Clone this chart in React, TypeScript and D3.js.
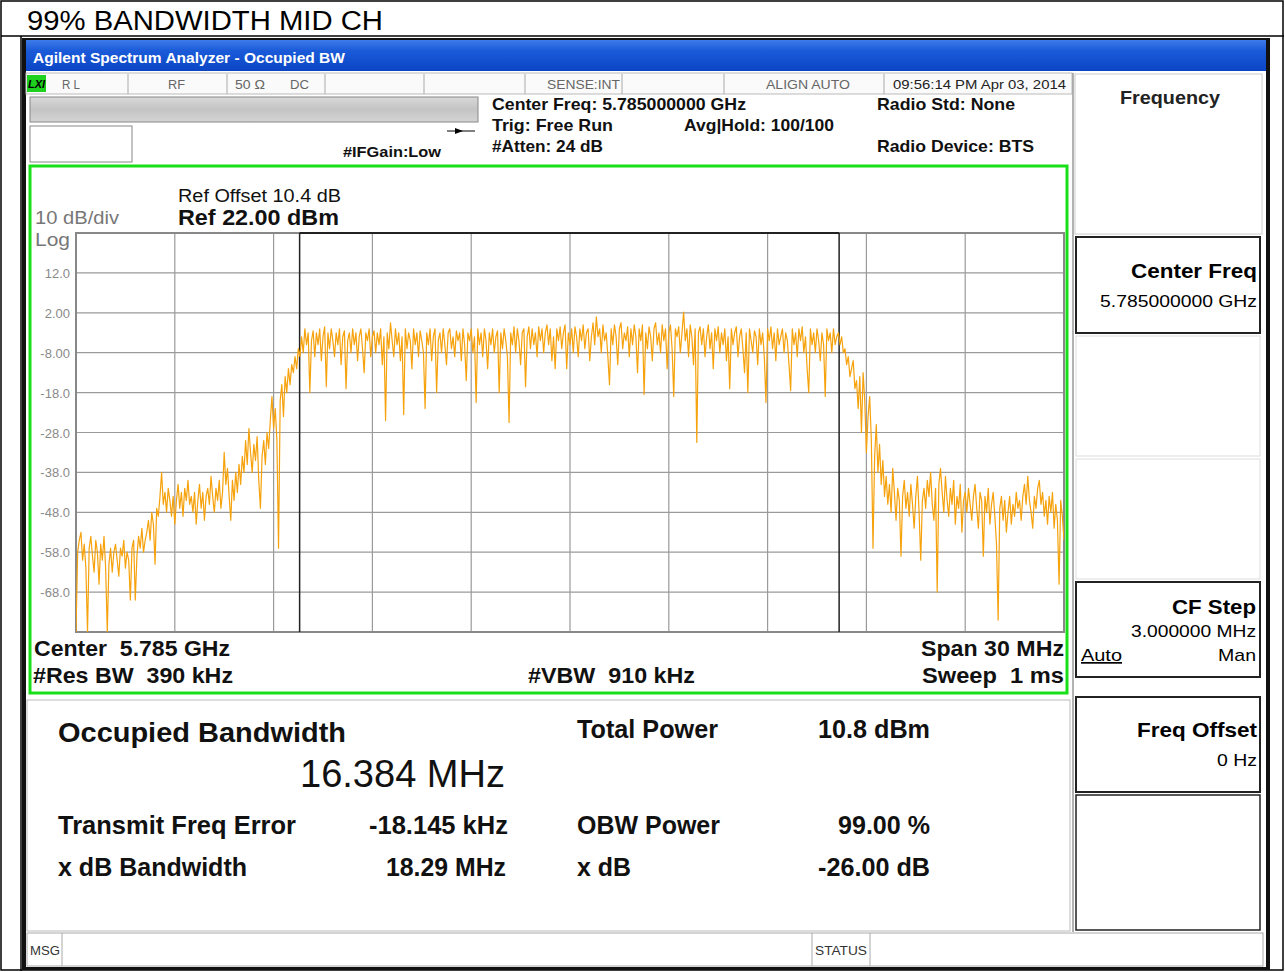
import React from 'react';
import * as d3 from 'd3';

const pageTitle = '99% BANDWIDTH MID CH';
const windowTitle = 'Agilent Spectrum Analyzer - Occupied BW';

const startFreqGHz = 5.77;
const stopFreqGHz = 5.8;
const refLevelDbm = 22;
const bottomLevelDbm = -78;
const xGridFreqs = [5.77, 5.773, 5.776, 5.779, 5.782, 5.785, 5.788, 5.791, 5.794, 5.797, 5.8];
const yGridLevels = [22, 12, 2, -8, -18, -28, -38, -48, -58, -68, -78];
const yTickValues = [12, 2, -8, -18, -28, -38, -48, -58, -68];
const yTickLabels = ['12.0', '2.00', '-8.00', '-18.0', '-28.0', '-38.0', '-48.0', '-58.0', '-68.0'];
const obwLowGHz = 5.77679;
const obwHighGHz = 5.793172;

// trace, 601 points evenly spaced from 5.770 to 5.800 GHz (dBm)
const traceLowerSkirt = [
  -78, -58, -55, -53, -60, -56, -62, -78, -57, -54,
  -59, -63, -55, -58, -66, -56, -60, -54, -62, -78,
  -61, -57, -63, -58, -56, -60, -64, -57, -59, -55,
  -62, -58, -60, -70, -57, -55, -70, -59, -54, -57,
  -52, -58, -55,
  -53, -50, -55, -48, -51, -61, -47, -49, -44, -38,
  -46, -43, -48, -42, -45, -49, -44, -51,
  -45, -41, -47, -43, -49, -42, -45, -40, -46, -44,
  -48, -43, -51, -45, -41, -47, -43, -50, -44, -42,
  -46, -39, -44, -48, -42, -45, -40, -47, -43, -33,
  -41, -37, -44, -50, -40, -45, -38, -43, -36, -41,
  -34, -38, -30, -36, -27, -33, -38, -31, -35, -29,
  -40, -47, -34, -30, -36, -28, -32, -25,
  -19, -27, -22, -30, -57, -20, -16, -24, -14, -18,
  -12, -16, -11, -13, -9, -12, -7, -9,
];
const traceInBand = [
  -4, -8, -2, -6, -3, -18, -5, -2.5, -9, -3,
  -6, -2, -10, -4, -1.5, -16.5, -3, -7, -2, -5,
  -9, -3, -6, -2, -11, -4, -2.5, -17, -5, -3,
  -8, -2, -6, -3, -10, -4, -2, -7, -13, -3,
  -5, -2, -9, -4, -2.5, -8, -3, -6, -2, -11,
  -4, -25, -3, -7, -0.5, -5, -9, -2, -6, -3,
  -10, -4, -23.5, -2, -7, -3, -5, -12, -2, -6,
  -3, -9, -2.5, -5, -8, -22, -3, -6, -2, -10,
  -4, -2, -18, -5, -3, -8, -2, -6, -11, -3,
  -2, -7, -4, -9, -2.5, -5, -3, -10, -2, -6,
  -15, -3, -5, -2, -8, -4, -20.5, -2, -6, -3,
  -9, -2, -5, -12, -3, -6, -2, -8, -4, -2.5,
  -18, -3, -7, -2, -5, -9, -25.5, -3, -6, -1.5,
  -8, -2, -5, -11, -3, -2, -16.5, -4, -1.5, -7,
  -2, -6, -3, -9, -1.5, -5, -2, -8, -3, -1,
  -6, -2, -10, -4, -12, -2, -5, -1.5, -7, -3,
  -1, -12, -3, -6, -2, -8, -1.5, -4, -9, -2,
  -5, -1, -7, -3, -2, -10, -4, -0.5, -6, 1,
  -4, -2, -8, -1, -5, -3, -9, -16, -2, -6,
  -1, -4, -11, -2, -0.5, -7, -3, -5, -1.5, -9,
  -2, -6, -1, -4, -13, -2, -5, -1, -18.5, -3,
  -7, -1.5, -4, -10, -2, -0.5, -6, -3, -8, -1,
  -5, -2, -12, -3, -1, -7, -19, -2, -4, -1.5,
  -8, -3, 2.2, -5, -2, -9, -1, -4, -11, -2,
  -30.5, -3, -1.5, -6, -2, -9, -4, -1, -7, -3,
  -12, -2, -5, -1.5, -8, -3, -6, -2, -10, -4,
  -17, -2, -6, -3, -1.5, -9, -4, -2, -7, -13,
  -3, -18, -2, -5, -8, -2.5, -4, -11, -2, -6,
  -3, -9, -20.5, -2, -5, -1.5, -7, -3, -10, -2,
  -6, -4, -2, -8, -3, -5, -11, -17.5, -2, -6,
  -3, -9, -2, -5, -1.5, -8, -4, -12, -18, -2,
  -6, -3, -8, -2, -5, -10, -3, -6, -19, -2,
  -5, -3, -8, -2, -6, -4,
];
const traceUpperSkirt = [
  -3, -6, -4, -8, -7, -11, -9, -14, -12, -10,
  -17, -15, -22, -14, -28, -13, -20, -33, -24, -19,
  -30, -57, -34, -26, -38, -31, -41, -35,
  -44, -39, -46, -41, -48, -37, -43, -50, -42, -45,
  -59, -44, -40, -47, -43, -49, -41, -46, -52, -44,
  -39, -48, -60, -45, -42, -47, -40, -44, -38, -46,
  -50, -42, -68, -41, -37, -43, -48, -39, -45, -49,
  -42, -46, -40, -51, -44, -47, -41, -53, -45, -43,
  -48, -42, -46, -50, -44, -41, -47, -52, -43, -45,
  -59, -44, -48, -42, -51, -46, -43, -49, -56, -75,
  -47, -44, -50, -45, -53, -48, -44, -51, -46, -49,
  -43, -47, -45, -50, -44, -41, -46, -39, -45, -48,
  -52, -44, -47, -42, -40, -46, -43, -49, -45, -51,
  -44, -48, -43, -52, -46, -50, -66, -45, -49, -55,
];
const traceDbm = [...traceLowerSkirt, ...traceInBand, ...traceUpperSkirt];

const statusCells = [
  { x: 62, text: 'R L', len: 18 },
  { x: 168, text: 'RF', len: 17 },
  { x: 235, text: '50 Ω', len: 30 },
  { x: 290, text: 'DC', len: 19 },
  { x: 547, text: 'SENSE:INT', len: 73 },
  { x: 766, text: 'ALIGN AUTO', len: 84 },
];
const statusDividers = [128, 227, 325, 424, 525, 622, 724, 884];

const F = "'Liberation Sans', Arial, Helvetica, sans-serif";

type TP = {
  x: number;
  y: number;
  s: number;
  b?: boolean;
  a?: 'start' | 'middle' | 'end';
  len?: number;
  fill?: string;
  children: React.ReactNode;
  [k: string]: any;
};
function T({ x, y, s, b, a, len, fill = '#111', children, ...rest }: TP) {
  return (
    <text
      x={x}
      y={y}
      fontFamily={F}
      fontSize={s}
      fontWeight={b ? 700 : 400}
      textAnchor={a || 'start'}
      textLength={len}
      lengthAdjust={len ? 'spacingAndGlyphs' : undefined}
      fill={fill}
      xmlSpace="preserve"
      {...rest}
    >
      {children}
    </text>
  );
}

export default function App() {
  const plot = { left: 76, right: 1064, top: 233, bottom: 632 };
  const x = d3.scaleLinear().domain([startFreqGHz, stopFreqGHz]).range([plot.left, plot.right]);
  const y = d3.scaleLinear().domain([bottomLevelDbm, refLevelDbm]).range([plot.bottom, plot.top]);
  const step = (stopFreqGHz - startFreqGHz) / (traceDbm.length - 1);
  const line = d3
    .line<number>()
    .x((_d, i) => x(startFreqGHz + i * step))
    .y((d) => y(d));
  const path = line(traceDbm) || '';

  return (
    <svg
      width={1285}
      height={972}
      style={{ position: 'absolute', left: 0, top: 0, background: '#fff' }}
      xmlns="http://www.w3.org/2000/svg"
    >
      <defs>
        <linearGradient id="titleGrad" x1="0" y1="0" x2="0" y2="1">
          <stop offset="0" stopColor="#3d7bea" />
          <stop offset="0.35" stopColor="#1a5ad8" />
          <stop offset="1" stopColor="#0a45c4" />
        </linearGradient>
        <linearGradient id="grayBar" x1="0" y1="0" x2="0" y2="1">
          <stop offset="0" stopColor="#d8d8d8" />
          <stop offset="0.5" stopColor="#c4c4c4" />
          <stop offset="1" stopColor="#d4d4d4" />
        </linearGradient>
        <clipPath id="plotClip">
          <rect x={plot.left} y={plot.top - 2} width={plot.right - plot.left} height={plot.bottom - plot.top + 2} />
        </clipPath>
      </defs>

      {/* page table */}
      <rect x={0} y={0} width={1285} height={972} fill="#fff" />
      <rect x={1} y={1} width={1282} height={969} fill="none" stroke="#000" strokeWidth={1.5} />
      <line x1={1} x2={1284} y1={36} y2={36} stroke="#000" strokeWidth={1.5} />
      <line x1={21} x2={21} y1={36} y2={971} stroke="#000" strokeWidth={1.5} />
      <T x={27} y={30} s={27} len={356} fill="#000">{pageTitle}</T>

      {/* screenshot frame */}
      <rect x={22} y={38} width={1248} height={932} fill="#111" />
      <rect x={26} y={40} width={1240} height={927} fill="#fff" />
      <rect x={26} y={40} width={1240} height={31} fill="url(#titleGrad)" />
      <T x={33} y={63} s={15.5} b len={312} fill="#fff">{windowTitle}</T>

      {/* status row */}
      <rect x={26} y={73} width={1046} height={21} fill="#fafafa" stroke="#bbb" strokeWidth={1} />
      <rect x={27} y={75} width={19} height={17} fill="#1fd11f" />
      <text x={28} y={88} fontFamily={F} fontStyle="italic" fontWeight={700} fontSize={11} fill="#000">LXI</text>
      {statusDividers.map((d) => (
        <line key={d} x1={d} x2={d} y1={74} y2={94} stroke="#aaa" strokeWidth={1} />
      ))}
      {statusCells.map((c) => (
        <T key={c.text} x={c.x} y={89} s={12.5} len={c.len} fill="#666">{c.text}</T>
      ))}
      <T x={893} y={89} s={13.5} len={173} fill="#222">09:56:14 PM Apr 03, 2014</T>

      {/* gray bar and box */}
      <rect x={30} y={97} width={448} height={25} fill="url(#grayBar)" stroke="#888" strokeWidth={1} />
      <rect x={30} y={126} width={102} height={36} fill="#fff" stroke="#888" strokeWidth={1} />
      <line x1={447} x2={475} y1={131} y2={131} stroke="#000" strokeWidth={1} />
      <path d="M 455 128 L 463 131 L 455 134 Z" fill="#000" />
      <T x={343} y={157} s={14} b len={98}>#IFGain:Low</T>

      <T x={492} y={110} s={16.5} b len={254}>Center Freq: 5.785000000 GHz</T>
      <T x={492} y={131} s={16.5} b len={121}>Trig: Free Run</T>
      <T x={684} y={131} s={16.5} b len={150}>Avg|Hold: 100/100</T>
      <T x={492} y={152} s={16.5} b len={111}>#Atten: 24 dB</T>
      <T x={877} y={110} s={16.5} b len={138}>Radio Std: None</T>
      <T x={877} y={152} s={16.5} b len={157}>Radio Device: BTS</T>

      {/* right soft-key panel */}
      <line x1={1073} x2={1073} y1={73} y2={932} stroke="#999" strokeWidth={1.5} />
      <rect x={1075} y={74} width={187} height={160} fill="#fff" stroke="#ccc" strokeWidth={1} />
      <T x={1120} y={104} s={19} b len={100} fill="#222">Frequency</T>

      <rect x={1076} y={237} width={184} height={96} fill="#fff" stroke="#222" strokeWidth={2} />
      <T x={1257} y={278} s={21} b a="end" len={126} fill="#000">Center Freq</T>
      <T x={1257} y={307} s={17} a="end" len={157} fill="#000">5.785000000 GHz</T>

      <rect x={1076} y={336} width={184} height={120} fill="#fff" stroke="#ddd" strokeWidth={1} />
      <rect x={1076} y={459} width={184} height={120} fill="#fff" stroke="#ddd" strokeWidth={1} />

      <rect x={1076} y={582} width={184} height={95} fill="#fff" stroke="#222" strokeWidth={2} />
      <T x={1256} y={614} s={21} b a="end" len={84} fill="#000">CF Step</T>
      <T x={1256} y={637} s={17} a="end" len={125} fill="#000">3.000000 MHz</T>
      <T x={1081} y={661} s={17} len={41} fill="#000" textDecoration="underline">Auto</T>
      <T x={1256} y={661} s={17} a="end" len={38} fill="#000">Man</T>

      <rect x={1076} y={697} width={184} height={95} fill="#fff" stroke="#222" strokeWidth={2} />
      <T x={1257} y={737} s={21} b a="end" len={120} fill="#000">Freq Offset</T>
      <T x={1257} y={766} s={17} a="end" len={40} fill="#000">0 Hz</T>

      <rect x={1076} y={795} width={184} height={135} fill="#fff" stroke="#222" strokeWidth={1.5} />

      {/* green measurement frame */}
      <rect x={30} y={166} width={1037} height={527} fill="#fff" stroke="#18e018" strokeWidth={3} />

      <T x={35} y={224} s={18} len={84} fill="#777">10 dB/div</T>
      <T x={35} y={246} s={19} len={35} fill="#777">Log</T>
      <T x={178} y={202} s={18} len={163}>Ref Offset 10.4 dB</T>
      <T x={178} y={225} s={22} b len={161}>Ref 22.00 dBm</T>

      {/* grid */}
      {xGridFreqs.map((f) => (
        <line key={'gx' + f} x1={x(f)} x2={x(f)} y1={plot.top} y2={plot.bottom} stroke="#9a9a9a" strokeWidth={1.2} />
      ))}
      {yGridLevels.map((v) => (
        <line key={'gy' + v} x1={plot.left} x2={plot.right} y1={y(v)} y2={y(v)} stroke="#9a9a9a" strokeWidth={1.2} />
      ))}
      <rect x={plot.left} y={plot.top} width={plot.right - plot.left} height={plot.bottom - plot.top} fill="none" stroke="#888" strokeWidth={2} />
      {yTickValues.map((v, i) => (
        <T key={'yl' + v} x={70} y={y(v) + 5} s={13} a="end" fill="#8a8a8a">{yTickLabels[i]}</T>
      ))}

      {/* OBW markers */}
      <line x1={x(obwLowGHz)} x2={x(obwLowGHz)} y1={plot.top} y2={plot.bottom} stroke="#222" strokeWidth={1.5} />
      <line x1={x(obwHighGHz)} x2={x(obwHighGHz)} y1={plot.top} y2={plot.bottom} stroke="#222" strokeWidth={1.5} />
      <line x1={x(obwLowGHz)} x2={x(obwHighGHz)} y1={plot.top} y2={plot.top} stroke="#222" strokeWidth={2} />

      {/* trace */}
      <path d={path} fill="none" stroke="#f6a20c" strokeWidth={1.2} strokeLinejoin="round" clipPath="url(#plotClip)" />

      {/* annotations below plot */}
      <T x={34} y={656} s={22} b len={196}>Center  5.785 GHz</T>
      <T x={33} y={683} s={22} b len={200}>#Res BW  390 kHz</T>
      <T x={528} y={683} s={22} b len={167}>#VBW  910 kHz</T>
      <T x={1064} y={656} s={22} b a="end" len={143}>Span 30 MHz</T>
      <T x={1064} y={683} s={22} b a="end" len={142}>Sweep  1 ms</T>

      {/* results panel */}
      <rect x={27} y={700} width={1043} height={231} fill="#fff" stroke="#bbb" strokeWidth={1} />
      <T x={58} y={742} s={27} b len={288}>Occupied Bandwidth</T>
      <T x={505} y={787} s={38} a="end" len={205}>16.384 MHz</T>
      <T x={58} y={834} s={25} b len={238}>Transmit Freq Error</T>
      <T x={508} y={834} s={25} b a="end" len={139}>-18.145 kHz</T>
      <T x={58} y={876} s={25} b len={189}>x dB Bandwidth</T>
      <T x={506} y={876} s={25} b a="end" len={120}>18.29 MHz</T>

      <T x={577} y={738} s={25} b len={141}>Total Power</T>
      <T x={930} y={738} s={25} b a="end" len={112}>10.8 dBm</T>
      <T x={577} y={834} s={25} b len={143}>OBW Power</T>
      <T x={930} y={834} s={25} b a="end" len={92}>99.00 %</T>
      <T x={577} y={876} s={25} b len={54}>x dB</T>
      <T x={930} y={876} s={25} b a="end" len={112}>-26.00 dB</T>

      {/* message bar */}
      <rect x={27} y={933} width={1236} height={33} fill="#fff" stroke="#aaa" strokeWidth={1} />
      <line x1={62} x2={62} y1={933} y2={966} stroke="#aaa" strokeWidth={1} />
      <line x1={812} x2={812} y1={933} y2={966} stroke="#aaa" strokeWidth={1} />
      <line x1={870} x2={870} y1={933} y2={966} stroke="#aaa" strokeWidth={1} />
      <T x={30} y={955} s={12} len={30} fill="#333">MSG</T>
      <T x={815} y={955} s={12} len={52} fill="#333">STATUS</T>
    </svg>
  );
}
